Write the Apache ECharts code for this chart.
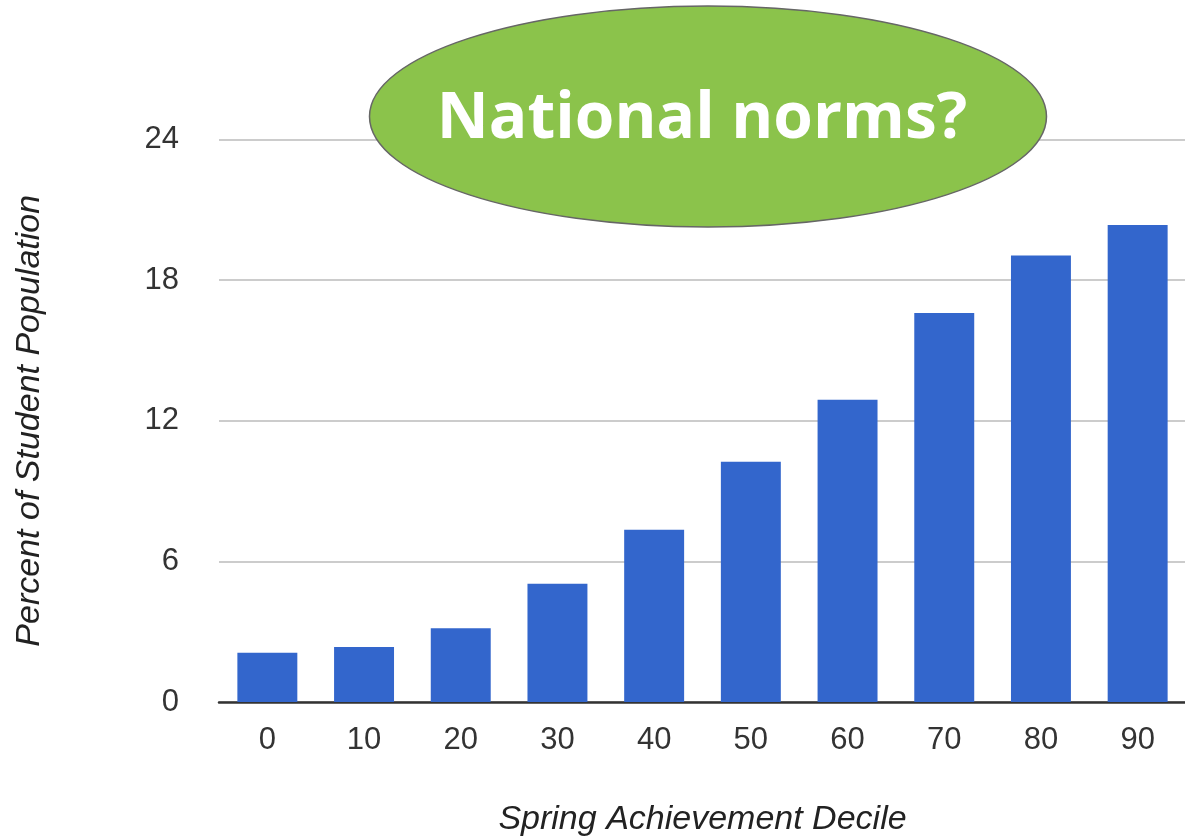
<!DOCTYPE html>
<html>
<head>
<meta charset="utf-8">
<script src="https://cdn.jsdelivr.net/npm/echarts@6/dist/echarts.min.js"></script>
<style>
  html, body { margin: 0; padding: 0; background: #ffffff; }
  #chart { width: 1185px; height: 836px; }
</style>
</head>
<body>
<div id="chart"></div>
<script>
// Spring achievement deciles and share of students in each
const deciles = ['0', '10', '20', '30', '40', '50', '60', '70', '80', '90'];
const percentOfStudents = [2.1, 2.35, 3.15, 5.05, 7.35, 10.25, 12.9, 16.6, 19.05, 20.35];
const yTicks = { min: 0, max: 24, interval: 6 };
const calloutText = 'National norms?';

const chart = echarts.init(document.getElementById('chart'), null, { renderer: 'canvas' });

const labelFont = 'Liberation Sans, Arial, sans-serif';

chart.setOption({
  animation: false,
  backgroundColor: '#ffffff',
  grid: {
    left: 219, width: 967, top: 139.5, bottom: 134,
    containLabel: false,
    outerBoundsMode: 'none'
  },
  xAxis: {
    type: 'category',
    data: deciles,
    name: 'Spring Achievement Decile',
    nameLocation: 'middle',
    nameGap: 101,
    nameTextStyle: { fontFamily: labelFont, fontStyle: 'italic', fontSize: 34, color: '#222' },
    axisLine: { show: true, lineStyle: { color: '#333', width: 2.5 } },
    axisTick: { show: false },
    axisLabel: { fontFamily: labelFont, fontSize: 31, color: '#333', margin: 23 }
  },
  yAxis: {
    type: 'value',
    min: yTicks.min,
    max: yTicks.max,
    interval: yTicks.interval,
    name: 'Percent of Student Population',
    nameLocation: 'middle',
    nameGap: 172,
    nameTextStyle: { fontFamily: labelFont, fontStyle: 'italic', fontSize: 34, color: '#222' },
    axisLine: { show: false },
    axisTick: { show: false },
    axisLabel: { fontFamily: labelFont, fontSize: 31, color: '#333', margin: 40 },
    splitLine: { lineStyle: { color: '#cccccc', width: 2 } }
  },
  series: [{
    type: 'bar',
    data: percentOfStudents,
    barCategoryGap: '38%',
    itemStyle: { color: '#3366cc' }
  }],
  graphic: [
    {
      type: 'ellipse',
      z: 100,
      shape: { cx: 708, cy: 116.5, rx: 338.5, ry: 110.5 },
      style: { fill: '#8bc34b', stroke: '#666666', lineWidth: 1.5 }
    },
    {
      type: 'text',
      z: 101,
      x: 702,
      y: 120,
      style: {
        text: calloutText,
        fill: '#ffffff',
        font: 'bold 64px "Open Sans", sans-serif',
        align: 'center',
        verticalAlign: 'middle'
      }
    }
  ]
});
</script>
</body>
</html>
